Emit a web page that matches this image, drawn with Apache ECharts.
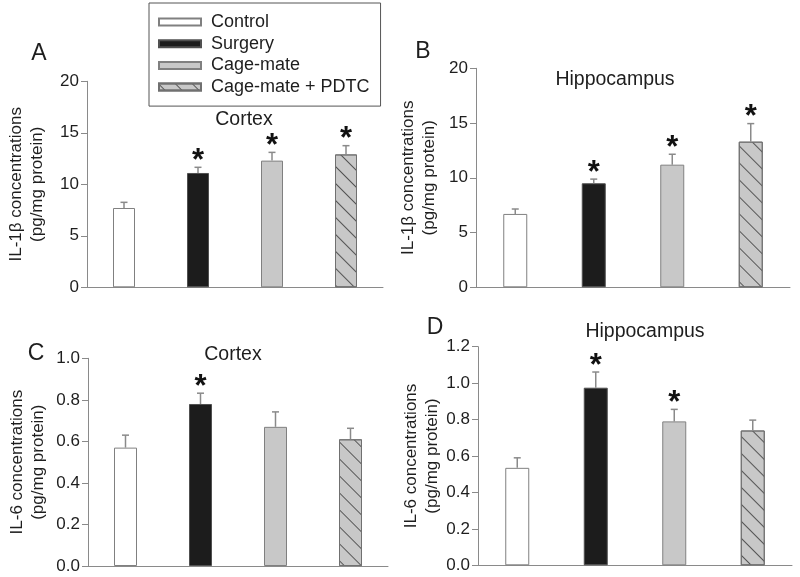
<!DOCTYPE html>
<html>
<head>
<meta charset="utf-8">
<script src="https://cdn.jsdelivr.net/npm/echarts@6/dist/echarts.min.js"></script>
<style>html,body{margin:0;padding:0;background:#fff}#c{width:800px;height:577px}</style>
</head>
<body>
<div id="c"></div>
<script>
// ---- data ----
const groups = ['Control', 'Surgery', 'Cage-mate', 'Cage-mate + PDTC'];

const il1bCortexMean = [7.7, 11.1, 12.3, 12.9];
const il1bCortexSE   = [0.55, 0.55, 0.8, 0.85];
const il1bCortexSig  = [false, true, true, true];

const il1bHippoMean = [6.7, 9.5, 11.2, 13.3];
const il1bHippoSE   = [0.45, 0.38, 0.95, 1.65];
const il1bHippoSig  = [false, true, true, true];

const il6CortexMean = [0.57, 0.78, 0.67, 0.61];
const il6CortexSE   = [0.06, 0.052, 0.072, 0.053];
const il6CortexSig  = [false, true, false, false];

const il6HippoMean = [0.535, 0.975, 0.79, 0.74];
const il6HippoSE   = [0.055, 0.086, 0.066, 0.057];
const il6HippoSig  = [false, true, true, false];

const il1bTicks = [0, 5, 10, 15, 20];
const il6CortexTicks = [0.0, 0.2, 0.4, 0.6, 0.8, 1.0];
const il6HippoTicks = [0.0, 0.2, 0.4, 0.6, 0.8, 1.0, 1.2];

const il1bTitle = 'IL-1\u03b2 concentrations\n(pg/mg protein)';
const il6Title = 'IL-6 concentrations\n(pg/mg protein)';

// ---- layout / style ----
const FONT = '"Liberation Sans", Arial, Helvetica, sans-serif';
const panels = [
  {mean: il1bCortexMean, se: il1bCortexSE, sig: il1bCortexSig, ticks: il1bTicks, title: il1bTitle, dec: 0,
   grid: {left: 87, top: 81.3, width: 296, height: 206}, barWidth: 22, nameGap: 39},
  {mean: il1bHippoMean, se: il1bHippoSE, sig: il1bHippoSig, ticks: il1bTicks, title: il1bTitle, dec: 0,
   grid: {left: 476, top: 68.3, width: 314, height: 219}, barWidth: 24, nameGap: 36},
  {mean: il6CortexMean, se: il6CortexSE, sig: il6CortexSig, ticks: il6CortexTicks, title: il6Title, dec: 1,
   grid: {left: 88, top: 358.3, width: 300, height: 207.7}, barWidth: 23, nameGap: 39},
  {mean: il6HippoMean, se: il6HippoSE, sig: il6HippoSig, ticks: il6HippoTicks, title: il6Title, dec: 1,
   grid: {left: 478, top: 346.7, width: 314, height: 218.6}, barWidth: 24, nameGap: 35}
];

const barStyles = [
  {color: '#ffffff', borderColor: '#808080', borderWidth: 1},
  {color: '#1c1c1c', borderColor: '#505050', borderWidth: 1},
  {color: '#c8c8c8', borderColor: '#808080', borderWidth: 1},
  {color: '#c8c8c8', borderColor: '#707070', borderWidth: 1,
   decal: {symbol: 'rect', dashArrayX: [1, 0], dashArrayY: [1, 11], rotation: Math.PI / 4, color: '#555555'}}
];

const AXIS_COLOR = '#8a8a8a';
const TEXT_COLOR = '#1e1e1e';

const grids = [], xAxes = [], yAxes = [], series = [];
panels.forEach((p, pi) => {
  grids.push(Object.assign({containLabel: false}, p.grid));
  xAxes.push({
    type: 'category', gridIndex: pi, data: groups,
    axisLine: {lineStyle: {color: AXIS_COLOR, width: 1}},
    axisTick: {show: false}, axisLabel: {show: false}
  });
  const tmin = p.ticks[0], tmax = p.ticks[p.ticks.length - 1];
  yAxes.push({
    type: 'value', gridIndex: pi, min: tmin, max: tmax, interval: p.ticks[1] - p.ticks[0],
    name: p.title, nameLocation: 'middle', nameGap: p.nameGap,
    nameTextStyle: {fontFamily: FONT, fontSize: 17, color: TEXT_COLOR, lineHeight: 21},
    axisLine: {show: true, lineStyle: {color: AXIS_COLOR, width: 1}},
    axisTick: {show: true, length: 6, lineStyle: {color: AXIS_COLOR}},
    splitLine: {show: false},
    axisLabel: {fontFamily: FONT, fontSize: 17, color: TEXT_COLOR, margin: 8,
      formatter: v => v.toFixed(p.dec)}
  });
  groups.forEach((g, gi) => {
    series.push({
      type: 'bar', name: g, xAxisIndex: pi, yAxisIndex: pi,
      barWidth: p.barWidth, barGap: '-100%',
      data: p.mean.map((m, i) => (i === gi ? m : '-')),
      itemStyle: barStyles[gi],
      emphasis: {disabled: true}
    });
  });
  series.push({
    type: 'custom', xAxisIndex: pi, yAxisIndex: pi, z: 5,
    data: p.mean.map((m, i) => [i, m, p.se[i], p.sig[i] ? 1 : 0]),
    encode: {x: 0, y: 1},
    renderItem: (params, api) => {
      const i = api.value(0), m = api.value(1), s = api.value(2), sg = api.value(3);
      const b = api.coord([i, m]);
      const t = api.coord([i, m + s]);
      const children = [
        {type: 'line', shape: {x1: b[0], y1: b[1], x2: t[0], y2: t[1]}, style: {stroke: '#8a8a8a', lineWidth: 1.5}},
        {type: 'line', shape: {x1: t[0] - 3.5, y1: t[1], x2: t[0] + 3.5, y2: t[1]}, style: {stroke: '#8a8a8a', lineWidth: 1.5}}
      ];
      if (sg) {
        children.push({type: 'text', x: t[0], y: t[1] - 6,
          style: {text: '*', fontFamily: FONT, fontSize: 31, fontWeight: 'bold', fill: '#111', align: 'center', verticalAlign: 'middle'}});
      }
      return {type: 'group', children};
    }
  });
});

const labels = [
  {text: 'A', x: 39, y: 53.5, size: 23},
  {text: 'B', x: 423, y: 52, size: 23},
  {text: 'C', x: 36, y: 354, size: 23},
  {text: 'D', x: 435, y: 328, size: 23},
  {text: 'Cortex', x: 244, y: 120, size: 19.5},
  {text: 'Hippocampus', x: 615, y: 80, size: 19.5},
  {text: 'Cortex', x: 233, y: 355, size: 19.5},
  {text: 'Hippocampus', x: 645, y: 332, size: 19.5}
];

const chart = echarts.init(document.getElementById('c'), null, {renderer: 'canvas'});
chart.setOption({
  animation: false,
  backgroundColor: '#ffffff',
  grid: grids, xAxis: xAxes, yAxis: yAxes, series,
  legend: {
    data: groups, orient: 'vertical', left: 149, top: 3,
    padding: [10, 11, 10, 9], itemGap: 3.7, itemWidth: 42, itemHeight: 7,
    borderColor: '#555', borderWidth: 1, selectedMode: false, icon: 'rect',
    textStyle: {fontFamily: FONT, fontSize: 18, color: TEXT_COLOR, padding: [0, 0, 0, 5]}
  },
  graphic: labels.map(l => ({
    type: 'text', x: l.x, y: l.y, silent: true,
    style: {text: l.text, fontFamily: FONT, fontSize: l.size, fill: TEXT_COLOR, align: 'center', verticalAlign: 'middle'}
  }))
});
</script>
</body>
</html>
